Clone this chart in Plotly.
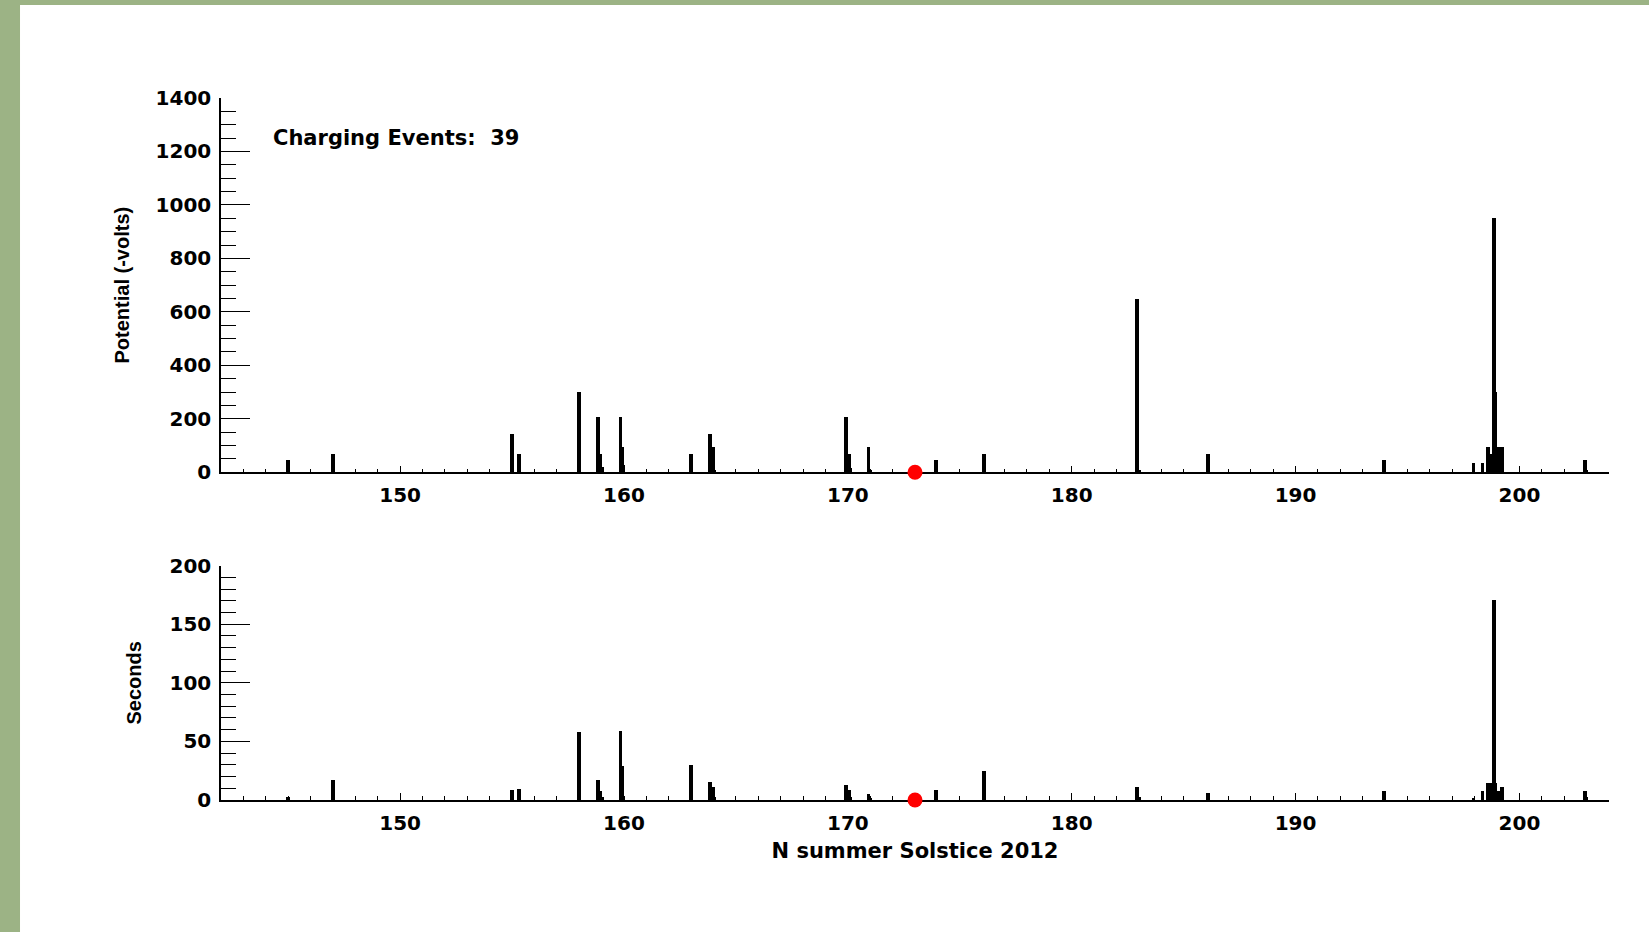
import plotly.graph_objects as go

# Day of year 2012 for each charging event
event_days = [145.0, 147.0, 155.0, 155.3, 158.0, 158.85, 158.95, 159.02,
              159.85, 159.92, 159.98, 163.0, 163.83, 164.0, 164.05,
              169.93, 170.08, 170.12, 170.92, 171.0, 173.94, 176.07,
              182.92, 183.0, 186.08, 193.95, 197.94, 198.35, 198.6,
              198.72, 198.85, 198.93, 199.02, 199.12, 199.22, 202.93, 203.0]
# Spacecraft potential (-volts)
potential = [46, 68, 143, 68, 302, 206, 68, 20,
             206, 96, 27, 68, 143, 96, 10,
             206, 68, 15, 96, 10, 46, 68,
             649, 10, 68, 46, 34, 34, 96,
             68, 953, 300, 96, 96, 96, 46, 10]
# Duration (seconds)
seconds = [3, 17, 9, 9.5, 58, 17, 8, 3,
           59, 29, 4, 30, 16, 11, 3,
           13, 9, 3, 5, 2, 9, 25,
           11, 3, 6, 8, 2, 8, 15,
           15, 171, 15, 8, 8, 11, 8, 3]

solstice_day = [173]
solstice_pot = [0]
solstice_sec = [0]

x_ticks = [150, 160, 170, 180, 190, 200]
pot_ticks = [0, 200, 400, 600, 800, 1000, 1200, 1400]
sec_ticks = [0, 50, 100, 150, 200]

tick_font = dict(family="DejaVu Sans", size=20, color="black", weight="bold")
title_font = dict(family="Liberation Sans", size=20, color="black", weight="bold")

fig = go.Figure()
fig.add_trace(go.Bar(x=event_days, y=potential, width=0.16, marker_color="black",
                     marker_line_width=0, xaxis="x", yaxis="y", showlegend=False))
fig.add_trace(go.Bar(x=event_days, y=seconds, width=0.16, marker_color="black",
                     marker_line_width=0, xaxis="x2", yaxis="y2", showlegend=False))
fig.add_trace(go.Scatter(x=solstice_day, y=solstice_pot, mode="markers",
                         marker=dict(color="red", size=15, line_width=0), cliponaxis=False,
                         xaxis="x", yaxis="y", showlegend=False))
fig.add_trace(go.Scatter(x=solstice_day, y=solstice_sec, mode="markers",
                         marker=dict(color="red", size=15, line_width=0), cliponaxis=False,
                         xaxis="x2", yaxis="y2", showlegend=False))

xcommon = dict(range=[142, 204], tickvals=x_ticks, ticks="inside", ticklen=7,
               tickwidth=1, tickcolor="black", showline=True, linecolor="black",
               linewidth=1.5, showgrid=False, zeroline=False, tickfont=tick_font,
               ticklabelstandoff=4, layer="below traces",
               minor=dict(dtick=1, ticks="inside", ticklen=4, tickwidth=1,
                          tickcolor="black", tick0=142))
ycommon = dict(ticks="inside", ticklen=29, tickwidth=1, tickcolor="black",
               showline=True, linecolor="black", linewidth=1.5, showgrid=False,
               zeroline=False, tickfont=tick_font, ticklabelstandoff=4,
               layer="below traces")

fig.update_layout(
    width=1649, height=932,
    margin=dict(l=221, r=40, t=98, b=132),
    paper_bgcolor="white", plot_bgcolor="white",
    barmode="overlay", bargap=0,
    xaxis=dict(**xcommon, domain=[0, 1], anchor="y"),
    yaxis=dict(**ycommon, domain=[0.4668, 1.0], anchor="x", range=[0, 1400],
               tickvals=pot_ticks,
               minor=dict(dtick=50, ticks="inside", ticklen=15, tickwidth=1,
                          tickcolor="black"),
               title=dict(text="Potential (-volts)", font=title_font, standoff=21)),
    xaxis2=dict(**xcommon, domain=[0, 1], anchor="y2",
                title=dict(text="N summer Solstice 2012",
                           font=dict(family="DejaVu Sans", size=21, color="black",
                                     weight="bold"), standoff=10)),
    yaxis2=dict(**ycommon, domain=[0, 0.3338], anchor="x2", range=[0, 200],
                tickvals=sec_ticks,
                minor=dict(dtick=10, ticks="inside", ticklen=15, tickwidth=1,
                           tickcolor="black"),
                title=dict(text="Seconds", font=title_font, standoff=22)),
    annotations=[dict(text="Charging Events:\u00a0 39", xref="paper", yref="paper",
                      x=0.0362, y=0.943, xanchor="left", yanchor="middle",
                      showarrow=False,
                      font=dict(family="DejaVu Sans", size=21, color="black",
                                weight="bold"))],
    shapes=[
        dict(type="rect", xref="paper", yref="paper", x0=-0.1593, x1=-0.1448,
             y0=-0.2, y1=1.2, fillcolor="#9cb385", line_width=0, layer="above"),
        dict(type="rect", xref="paper", yref="paper", x0=-0.2, x1=1.1,
             y0=1.1325, y1=1.2, fillcolor="#9cb385", line_width=0, layer="above"),
    ],
)

fig.write_html("out.html", config={"displayModeBar": False},
               post_script="document.body.style.margin='0px';document.body.style.overflow='hidden';")
